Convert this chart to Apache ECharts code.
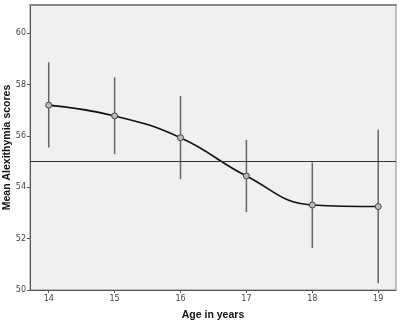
<!DOCTYPE html>
<html><head><meta charset="utf-8">
<script src="https://cdn.jsdelivr.net/npm/echarts@6/dist/echarts.min.js"></script>
<style>html,body{margin:0;padding:0;background:#fff}#c{width:400px;height:323px}</style>
</head><body><div id="c"></div>
<script>
const ages = [14, 15, 16, 17, 18, 19];
const means = [57.2, 56.78, 55.93, 54.44, 53.31, 53.25];
const upper = [58.87, 58.28, 57.55, 55.85, 54.97, 56.24];
const lower = [55.55, 55.29, 54.31, 53.03, 51.63, 50.26];
const yTicks = [50, 52, 54, 56, 58, 60];
const refValue = 55;

const chart = echarts.init(document.getElementById('c'), null, {renderer: 'canvas'});
const lineData = ages.map((a, i) => [a, means[i]]);
const errData = ages.map((a, i) => [a, lower[i], upper[i]]);
chart.setOption({
  animation: false,
  backgroundColor: '#ffffff',
  textStyle: {fontFamily: 'DejaVu Sans'},
  grid: {left: 30, right: 4, top: 5, bottom: 33, containLabel: false, outerBoundsMode: 'none',
    show: true, backgroundColor: '#f0f0f0', borderColor: '#8a8a8a', borderWidth: 1},
  xAxis: [{
    type: 'value', min: 13.716, max: 19.27,
    name: 'Age in years', nameLocation: 'middle', nameGap: 20, nameMoveOverlap: false,
    nameTextStyle: {fontFamily: 'Liberation Sans', fontWeight: 'bold', fontSize: 10.5, color: '#111'},
    axisLine: {show: true, onZero: false, lineStyle: {color: '#555', width: 1}},
    axisTick: {show: true, length: 3, customValues: ages, lineStyle: {color: '#555'}},
    axisLabel: {customValues: ages, fontSize: 8, color: '#444', margin: 5},
    splitLine: {show: false}
  }, {
    type: 'value', min: 13.716, max: 19.27, position: 'top',
    axisLine: {show: true, onZero: false, lineStyle: {color: '#888', width: 2}},
    axisTick: {show: false}, axisLabel: {show: false}, splitLine: {show: false}
  }],
  yAxis: {
    type: 'value', min: 50, max: 61.1,
    name: 'Mean Alexithymia scores', nameLocation: 'middle', nameGap: 17, nameMoveOverlap: false,
    nameTextStyle: {fontFamily: 'Liberation Sans', fontWeight: 'bold', fontSize: 10.5, color: '#111'},
    axisLine: {show: true, lineStyle: {color: '#555', width: 1}},
    axisTick: {show: true, length: 3, customValues: yTicks, lineStyle: {color: '#555'}},
    axisLabel: {customValues: yTicks, fontSize: 8, color: '#444', margin: 4},
    splitLine: {show: false}
  },
  series: [
    {
      type: 'custom',
      data: errData,
      renderItem: function (params, api) {
        const x = api.value(0);
        const p1 = api.coord([x, api.value(1)]);
        const p2 = api.coord([x, api.value(2)]);
        return {type: 'line', shape: {x1: p1[0], y1: p1[1], x2: p2[0], y2: p2[1]},
          style: {stroke: '#666', lineWidth: 1.5}};
      },
      z: 2
    },
    {
      type: 'line',
      data: lineData,
      smooth: 0.45,
      symbol: 'circle', symbolSize: 6,
      lineStyle: {color: '#111', width: 1.6},
      itemStyle: {color: '#bbbbbb', borderColor: '#444', borderWidth: 1},
      z: 3,
      markLine: {
        silent: true, symbol: 'none', label: {show: false},
        lineStyle: {color: '#333', width: 1, type: 'solid'},
        data: [{yAxis: refValue}]
      }
    }
  ]
});
</script></body></html>
